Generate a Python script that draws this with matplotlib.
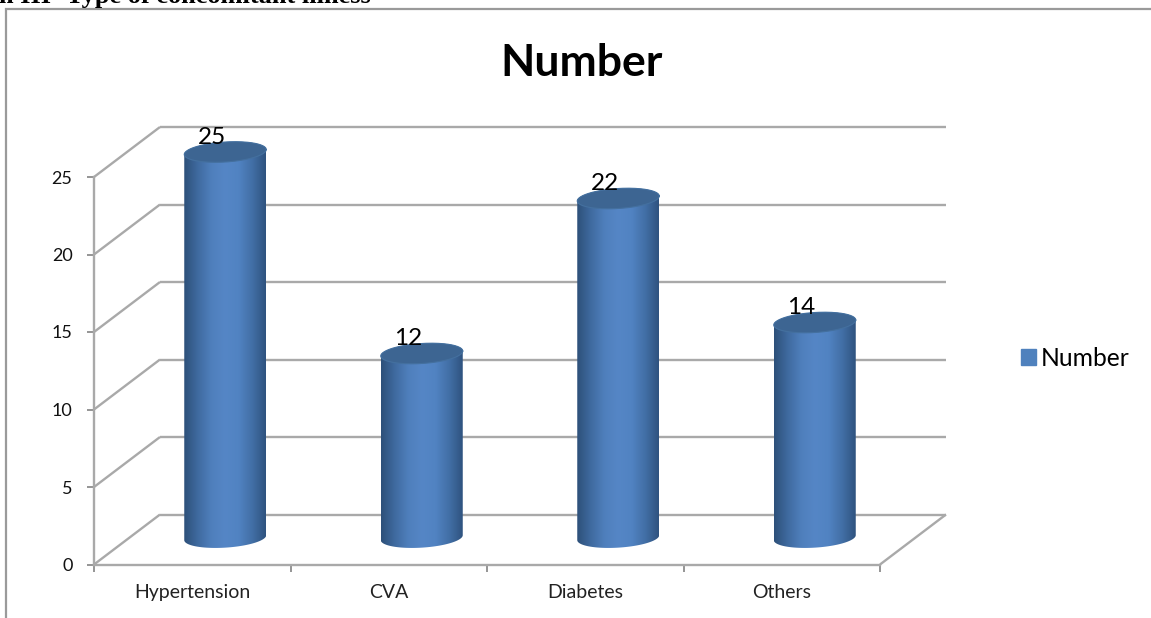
import numpy as np
import matplotlib
matplotlib.use("Agg")
import matplotlib.pyplot as plt
from matplotlib.colors import LinearSegmentedColormap
from matplotlib.patches import Patch, PathPatch, Polygon
from matplotlib.path import Path

categories = ["Hypertension", "CVA", "Diabetes", "Others"]
values = [25, 12, 22, 14]
y_ticks = [0, 5, 10, 15, 20, 25]
series_name = "Number"
caption = "n III- Type of concomitant illness"

W, H = 1151, 618
GRID = "#a9a9a9"
FONT = "Lato"

# Plot box of the front plane, in figure pixels
LEFT, RIGHT, BOTTOM, TOP = 94, 880, 564.5, 177

fig = plt.figure(figsize=(W / 100, H / 100), dpi=100, facecolor="white")
ax = fig.add_axes([LEFT / W, 1 - BOTTOM / H, (RIGHT - LEFT) / W, (BOTTOM - TOP) / H])
ax.set_xlim(-0.5, 3.5)
ax.set_ylim(0, 25)
ax.patch.set_visible(False)

px = (RIGHT - LEFT) / 4       # pixels per category
py = (BOTTOM - TOP) / 25      # pixels per value unit
depth_x = 66 / px             # receding offset of the back wall
depth_y = 50 / py


def line(xs, ys, lw=1.7, color=GRID, z=1):
    ax.plot(xs, ys, color=color, lw=lw, clip_on=False, zorder=z, solid_capstyle="butt")


# Back wall gridlines and the diagonals of the side wall
for t in y_ticks:
    line([-0.5, -0.5 + depth_x], [t, t + depth_y])
    line([-0.5 + depth_x, 3.5 + depth_x], [t + depth_y, t + depth_y])
line([3.5, 3.5 + depth_x], [0, depth_y])

# Cylinders
shade = LinearSegmentedColormap.from_list(
    "cyl", ["#2d5079", "#3f6a9f", "#4f7fbc", "#5586c6", "#5183c2", "#426fa6", "#2f537f"]
)
half_w = 41 / px
half_h = 10 / py
shear = 0.06 * px / py        # tilt of the elliptical caps
t = np.linspace(0, 2 * np.pi, 160)


def cap(cx, cy):
    return (cx + half_w * np.cos(t),
            cy + half_h * np.sin(t) + shear * half_w * np.cos(t))


gradient = np.linspace(0, 1, 256).reshape(1, -1)
for i, v in enumerate(values):
    cx = i + depth_x / 2
    base = depth_y / 2 + 0.12
    top = v + depth_y / 2
    bx, by = cap(cx, base)
    tx, ty = cap(cx, top)
    lower = t >= np.pi
    # outline of the body: lower half of the base, upper half of the top
    order = np.argsort(bx[lower])
    body_x = np.r_[bx[lower][order], tx[~lower]]
    body_y = np.r_[by[lower][order], ty[~lower]]
    body = Polygon(np.c_[body_x, body_y], closed=True, transform=ax.transData,
                   facecolor="none", edgecolor="none")
    ax.add_patch(body)
    img = ax.imshow(gradient, cmap=shade, aspect="auto", zorder=3,
                    extent=[cx - half_w, cx + half_w, base - 2, top + 2])
    img.set_clip_box(fig.bbox)
    img.set_clip_path(body)
    ax.fill(tx, ty, color="#3d6592", zorder=4, clip_on=False, lw=0)
    ax.plot(tx, ty, color="#44709f", lw=0.8, zorder=4, clip_on=False)
    ax.text(i + 0.1, v + 2.58, str(v), ha="center", va="center", zorder=5,
            fontsize=17.5, family=FONT, color="black", clip_on=False)
ax.set_xlim(-0.5, 3.5)
ax.set_ylim(0, 25)

# Front axes
for side in ("top", "right"):
    ax.spines[side].set_visible(False)
for side in ("left", "bottom"):
    ax.spines[side].set_color(GRID)
    ax.spines[side].set_linewidth(1.7)
    ax.spines[side].set_zorder(2)
ax.set_yticks(y_ticks)
ax.set_yticklabels([str(v) for v in y_ticks], fontsize=13, family=FONT, color="#111111")
ax.set_xticks(np.arange(-0.5, 4, 1))
ax.set_xticklabels([])
ax.set_xticks(np.arange(4), minor=True)
ax.set_xticklabels(categories, minor=True, fontsize=14, family=FONT, color="#222222")
ax.tick_params(axis="y", length=5, width=1.3, color="#8c8c8c", pad=10.5)
ax.tick_params(axis="x", which="major", length=5, width=1.3, color="#8c8c8c")
ax.tick_params(axis="x", which="minor", length=0, pad=14)

# Chart title, caption and outer frame
fig.text(582 / W, 1 - 63 / H, series_name, ha="center", va="center",
         fontsize=32, fontweight="bold", family=FONT, color="black")
fig.text(-1 / W, 1 - 3.5 / H, caption, ha="left", va="baseline",
         fontsize=19, fontweight="bold", family="Liberation Serif", color="black")
frame = Path([(6 / W, 0), (6 / W, 1 - 8.5 / H), (1, 1 - 8.5 / H)])
fig.add_artist(PathPatch(frame, transform=fig.transFigure, facecolor="none",
                         edgecolor="#9a9a9a", lw=1.6))

# Legend
fig.legend(handles=[Patch(color="#4f81bd", label=series_name)],
           loc="center left", bbox_to_anchor=(1021 / W, 1 - 358 / H), frameon=False,
           prop={"family": FONT, "size": 17.7}, handlelength=0.62, handleheight=0.62,
           handletextpad=0.2, borderpad=0, borderaxespad=0)

fig.savefig("out.png", dpi=100)
